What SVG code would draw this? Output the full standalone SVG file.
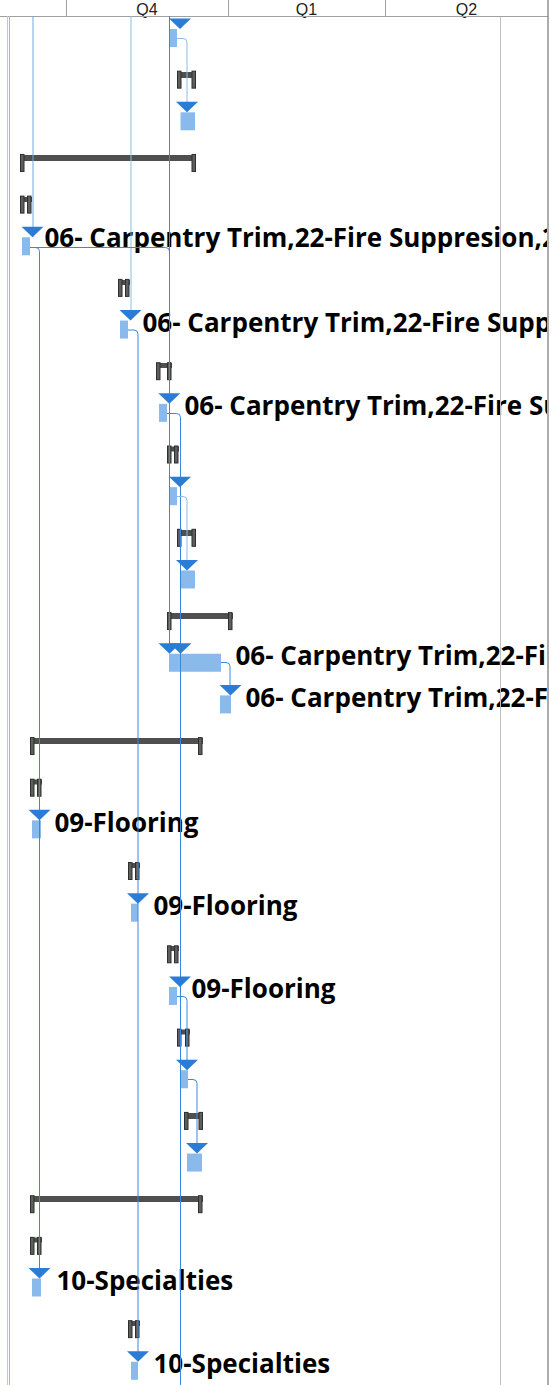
<svg xmlns="http://www.w3.org/2000/svg" width="559" height="1385" viewBox="0 0 559 1385">
<defs>
<style>
.bar{fill:#8ab9eb}
.arr{fill:#2a7cd6}
.lnk{fill:none;stroke:#3a88de;stroke-width:1}
.lnkm{fill:none;stroke:#6aa6e6;stroke-width:1}
.lnkl{fill:none;stroke:#8cbbec;stroke-width:1}
.sb{fill:#4f4f4f}
.tk{fill:#5e5e5e;stroke:#2e2e2e;stroke-width:1}
.lbl{font-family:"Open Sans","Noto Sans",sans-serif;font-weight:700;font-size:26px;fill:#000}
.hdr{font-family:"Liberation Sans",Arial,sans-serif;font-size:16px;fill:#222;text-anchor:middle}
.grid{stroke:#c0c0c0;stroke-width:1}
.hline{stroke:#a0a0a0;stroke-width:1}
</style>
<clipPath id="chart"><rect x="0" y="16" width="547" height="1369"/></clipPath>
<path id="ah" d="M-11,-10.5 L11,-10.5 L0,0 Z"/>
</defs>
<rect x="0" y="0" width="559" height="1385" fill="#fff"/>

<g id="header">
  <text class="hdr" x="147" y="14.6">Q4</text>
  <text class="hdr" x="306.5" y="14.6">Q1</text>
  <text class="hdr" x="466.5" y="14.6">Q2</text>
  <line class="hline" x1="66.5" y1="0" x2="66.5" y2="16"/>
  <line class="hline" x1="228.5" y1="0" x2="228.5" y2="16"/>
  <line class="hline" x1="385.5" y1="0" x2="385.5" y2="16"/>
  <line class="hline" x1="0" y1="16.5" x2="548" y2="16.5"/>
</g>

<g clip-path="url(#chart)">
<!-- task bars -->
<g id="task-r0"><rect class="bar" x="169" y="29" width="8" height="18"/></g>
<g id="task-r2"><rect class="bar" x="180.5" y="112.3" width="14.5" height="18"/></g>
<g id="task-r5"><rect class="bar" x="22" y="237.25" width="8" height="18"/></g>
<g id="task-r7"><rect class="bar" x="120" y="320.55" width="8" height="18"/></g>
<g id="task-r9"><rect class="bar" x="159" y="403.85" width="8" height="18"/></g>
<g id="task-r11"><rect class="bar" x="169" y="487.15" width="8" height="18"/></g>
<g id="task-r13"><rect class="bar" x="180.5" y="570.45" width="14.5" height="18"/></g>
<g id="task-r15"><rect class="bar" x="169" y="653.75" width="52" height="18"/></g>
<g id="task-r16"><rect class="bar" x="220" y="695.4" width="11" height="18"/></g>
<g id="task-r19"><rect class="bar" x="32" y="820.35" width="9" height="18"/></g>
<g id="task-r21"><rect class="bar" x="131" y="903.65" width="7" height="18"/></g>
<g id="task-r23"><rect class="bar" x="169" y="986.95" width="8" height="18"/></g>
<g id="task-r25"><rect class="bar" x="180" y="1070.25" width="8" height="18"/></g>
<g id="task-r27"><rect class="bar" x="187" y="1153.55" width="15" height="18"/></g>
<g id="task-r30"><rect class="bar" x="32" y="1278.5" width="9" height="18"/></g>
<g id="task-r32"><rect class="bar" x="131" y="1361.8" width="7" height="18"/></g>

<!-- summary bars and markers -->
<g id="sum-r1"><rect class="sb" x="177" y="72" width="19" height="6"/><rect class="tk" x="177.5" y="71.15" width="3.5" height="17"/><rect class="tk" x="192" y="71.15" width="3.5" height="17"/></g>
<g id="sum-r3"><rect class="sb" x="20" y="155" width="176" height="6"/><rect class="tk" x="20.5" y="154.45" width="3.5" height="17"/><rect class="tk" x="192" y="154.45" width="3.5" height="17"/></g>
<g id="sum-r4"><rect class="sb" x="20" y="197" width="12" height="5"/><rect class="tk" x="20.5" y="196.1" width="3.5" height="17"/><rect class="tk" x="27.5" y="196.1" width="3.5" height="17"/></g>
<g id="sum-r6"><rect class="sb" x="118" y="280" width="12" height="5"/><rect class="tk" x="118.5" y="279.4" width="3.5" height="17"/><rect class="tk" x="125.5" y="279.4" width="3.5" height="17"/></g>
<g id="sum-r8"><rect class="sb" x="156" y="363" width="16" height="5"/><rect class="tk" x="156.5" y="362.7" width="3.5" height="17"/><rect class="tk" x="167.5" y="362.7" width="3.5" height="17"/></g>
<g id="sum-r10"><rect class="sb" x="167" y="446.5" width="12" height="5"/><rect class="tk" x="167.5" y="446" width="3.5" height="17"/><rect class="tk" x="174.5" y="446" width="3.5" height="17"/></g>
<g id="sum-r12"><rect class="sb" x="177" y="530" width="19" height="6"/><rect class="tk" x="177.5" y="529.3" width="3.5" height="17"/><rect class="tk" x="192" y="529.3" width="3.5" height="17"/></g>
<g id="sum-r14"><rect class="sb" x="167" y="613" width="66" height="6"/><rect class="tk" x="167.5" y="612.6" width="3.5" height="17"/><rect class="tk" x="228.5" y="612.6" width="3.5" height="17"/></g>
<g id="sum-r17"><rect class="sb" x="30" y="738" width="173" height="6"/><rect class="tk" x="30.5" y="737.55" width="3.5" height="17"/><rect class="tk" x="198.5" y="737.55" width="3.5" height="17"/></g>
<g id="sum-r18"><rect class="sb" x="30" y="779.5" width="12" height="5"/><rect class="tk" x="30.5" y="779.2" width="3.5" height="17"/><rect class="tk" x="37.5" y="779.2" width="3.5" height="17"/></g>
<g id="sum-r20"><rect class="sb" x="128" y="863" width="12" height="5"/><rect class="tk" x="128.5" y="862.5" width="3.5" height="17"/><rect class="tk" x="135.5" y="862.5" width="3.5" height="17"/></g>
<g id="sum-r22"><rect class="sb" x="167" y="946" width="12" height="5"/><rect class="tk" x="167.5" y="945.8" width="3.5" height="17"/><rect class="tk" x="174.5" y="945.8" width="3.5" height="17"/></g>
<g id="sum-r24"><rect class="sb" x="177" y="1029.5" width="13" height="5"/><rect class="tk" x="177.5" y="1029.1" width="3.5" height="17"/><rect class="tk" x="185.5" y="1029.1" width="3.5" height="17"/></g>
<g id="sum-r26"><rect class="sb" x="184" y="1113" width="19" height="6"/><rect class="tk" x="184.5" y="1112.4" width="3.5" height="17"/><rect class="tk" x="199" y="1112.4" width="3.5" height="17"/></g>
<g id="sum-r28"><rect class="sb" x="30" y="1196" width="173" height="6"/><rect class="tk" x="30.5" y="1195.7" width="3.5" height="17"/><rect class="tk" x="198.5" y="1195.7" width="3.5" height="17"/></g>
<g id="sum-r29"><rect class="sb" x="30" y="1237.5" width="12" height="5"/><rect class="tk" x="30.5" y="1237.35" width="3.5" height="17"/><rect class="tk" x="37.5" y="1237.35" width="3.5" height="17"/></g>
<g id="sum-r31"><rect class="sb" x="128" y="1321" width="12" height="5"/><rect class="tk" x="128.5" y="1320.65" width="3.5" height="17"/><rect class="tk" x="135.5" y="1320.65" width="3.5" height="17"/></g>

<!-- labels -->
<g id="labels">
  <text class="lbl" x="44.5" y="247">06- Carpentry Trim,22-Fire Suppresion,2</text>
  <text class="lbl" x="142.5" y="332">06- Carpentry Trim,22-Fire Supp</text>
  <text class="lbl" x="184.5" y="415.4">06- Carpentry Trim,22-Fire Su</text>
  <text class="lbl" x="235.5" y="665.25">06- Carpentry Trim,22-Fir</text>
  <text class="lbl" x="245.5" y="706.9">06- Carpentry Trim,22-F</text>
  <text class="lbl" x="54.5" y="831.85">09-Flooring</text>
  <text class="lbl" x="153.5" y="915.15">09-Flooring</text>
  <text class="lbl" x="191.5" y="998.45">09-Flooring</text>
  <text class="lbl" x="56.5" y="1290">10-Specialties</text>
  <text class="lbl" x="153.5" y="1373.3">10-Specialties</text>
</g>

<!-- connectors -->
<g id="connectors">
  <line stroke="#a9cdf2" stroke-width="1" x1="7.5" y1="16" x2="7.5" y2="1385"/>
  <line class="lnkl" x1="9.5" y1="16" x2="9.5" y2="1385"/>
  <line class="lnkm" x1="33" y1="16" x2="33" y2="237"/>
  <line class="lnkl" x1="131" y1="16" x2="131" y2="320"/>
  <line class="lnk" x1="169.5" y1="16" x2="169.5" y2="653"/>
  <path class="lnk" d="M30,247.5 H165.5 A4,4 0 0 1 169.5,251.5"/>
  <path class="lnk" d="M30,247.5 H35.5 A4,4 0 0 1 39.5,251.5 V1278"/>
  <path class="lnk" d="M128,330 H134 A4,4 0 0 1 138,334 V1361"/>
  <path class="lnk" d="M167,413.5 H176.5 A4,4 0 0 1 180.5,417.5 V1385"/>
  <path class="lnkl" d="M177,38.5 H183 A4,4 0 0 1 187,42.5 V112"/>
  <path class="lnkl" d="M177,496.5 H183 A4,4 0 0 1 187,500.5 V570"/>
  <path class="lnk" d="M221,662.5 H226 A4,4 0 0 1 230,666.5 V695"/>
  <path class="lnk" d="M177,996.5 H183 A4,4 0 0 1 187,1000.5 V1070"/>
  <path class="lnk" d="M188,1079.5 H193 A4,4 0 0 1 197,1083.5 V1153"/>
  <use href="#ah" class="arr" x="180" y="29"/>
  <use href="#ah" class="arr" x="187" y="112.3"/>
  <use href="#ah" class="arr" x="32.5" y="237.25"/>
  <use href="#ah" class="arr" x="130.5" y="320.55"/>
  <use href="#ah" class="arr" x="169.3" y="403.85"/>
  <use href="#ah" class="arr" x="180" y="487.15"/>
  <use href="#ah" class="arr" x="187" y="570.45"/>
  <use href="#ah" class="arr" x="169.5" y="653.75"/>
  <use href="#ah" class="arr" x="180.5" y="653.75"/>
  <use href="#ah" class="arr" x="230.5" y="695.4"/>
  <use href="#ah" class="arr" x="39.5" y="820.35"/>
  <use href="#ah" class="arr" x="138" y="903.65"/>
  <use href="#ah" class="arr" x="180" y="986.95"/>
  <use href="#ah" class="arr" x="187" y="1070.25"/>
  <use href="#ah" class="arr" x="197" y="1153.55"/>
  <use href="#ah" class="arr" x="39.5" y="1278.5"/>
  <use href="#ah" class="arr" x="138" y="1361.8"/>
</g>
</g>

<g id="grid">
  <line class="grid" x1="500.5" y1="17" x2="500.5" y2="1385"/>
  <line x1="548" y1="0" x2="548" y2="1385" stroke="#5a5a5a" stroke-width="1"/>
</g>
</svg>
